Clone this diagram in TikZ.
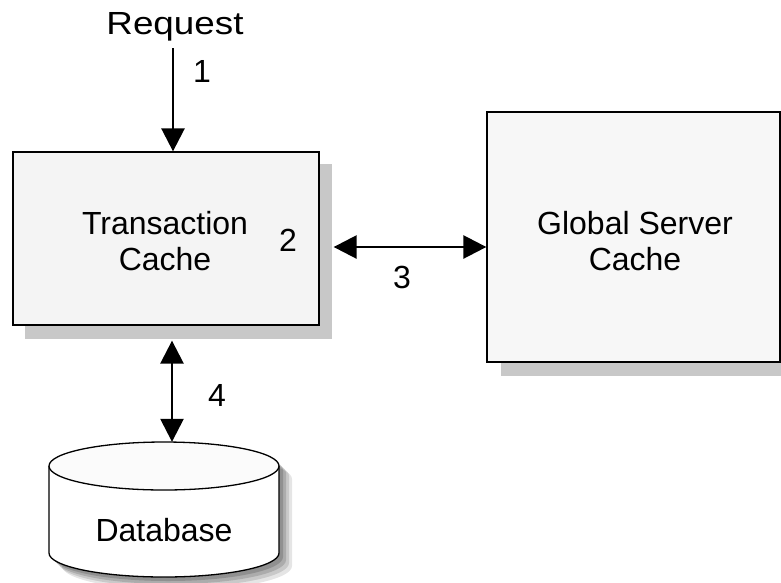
\documentclass[tikz,border=0pt]{standalone}
\usepackage{fontspec}
\setmainfont{Liberation Sans}
\usetikzlibrary{arrows.meta}
\definecolor{boxfill}{HTML}{F4F4F4}
\definecolor{boxfilltwo}{HTML}{F7F7F7}
\definecolor{shadowgray}{HTML}{C8C8C8}
\begin{document}
\begin{tikzpicture}[x=1pt,y=-1pt,
  txt/.style={font=\fontsize{32}{36}\selectfont, inner sep=0pt, align=center},
  boxnode/.style={draw=black, line width=1.3pt, inner sep=0pt, txt},
  arr/.style={line width=2.6pt, -{Triangle[length=23pt,width=23pt]}},
  dblarr/.style={line width=2.6pt, {Triangle[length=23pt,width=23pt]}-{Triangle[length=23pt,width=23pt]}}
]
\useasboundingbox[fill=white] (0,0) rectangle (781,582);
% shadows
\fill[shadowgray] (25,164) rectangle (332,339);
\fill[shadowgray] (501,126) rectangle (795,376);
% boxes
\node[boxnode, fill=boxfill, minimum width=306pt, minimum height=173pt] (tc) at (166,238.5) {};
\node[txt] (tctext) at (165,241) {Transaction\\Cache};
\node[boxnode, fill=boxfilltwo, minimum width=293pt, minimum height=250pt] (gsc) at (633.5,237) {};
\node[txt] (gsctext) at (635,241) {Global Server\\Cache};
% database cylinder shadow
\foreach \o/\op in {13/0.10,10/0.12,7/0.14,4/0.16}{
  \fill[black, opacity=\op, shift={(\o,\o)}]
    (49,466) -- (49,553) arc[start angle=180, end angle=0, x radius=115, y radius=24]
    -- (279,466) arc[start angle=0, end angle=-180, x radius=115, y radius=24] -- cycle;
}
% database cylinder
\fill[white] (49,466) -- (49,553) arc[start angle=180, end angle=0, x radius=115, y radius=24]
    -- (279,466) arc[start angle=0, end angle=-180, x radius=115, y radius=24] -- cycle;
\draw[line width=1.3pt] (49,466) -- (49,553) arc[start angle=180, end angle=0, x radius=115, y radius=24] -- (279,466);
\draw[line width=1.3pt, fill=white!97!gray] (164,466) ellipse[x radius=115, y radius=24];
\node[inner sep=0pt, minimum width=230pt, minimum height=135pt] (db) at (164,509.5) {};
\node[txt] (dbtext) at (164,530) {Database};
% request
\node[txt] (req) at (175,27) {\scalebox{1.15}[1]{Request}};
\coordinate (a1) at (173,48);
% connectors
\draw[arr] (a1) -- (a1 |- tc.north);
\draw[dblarr] ([xshift=14pt,yshift=-8.5pt]tc.east) -- ([yshift=-10pt]gsc.west);
\draw[dblarr] ([xshift=6pt,yshift=-15pt]tc.south) -- ([xshift=8pt]db.north);
% labels
\node[txt] (l1) at (202,71) {1};
\node[txt] (l2) at (288,240) {2};
\node[txt] (l3) at (402,277) {3};
\node[txt] (l4) at (217,395) {4};
\end{tikzpicture}
\end{document}
